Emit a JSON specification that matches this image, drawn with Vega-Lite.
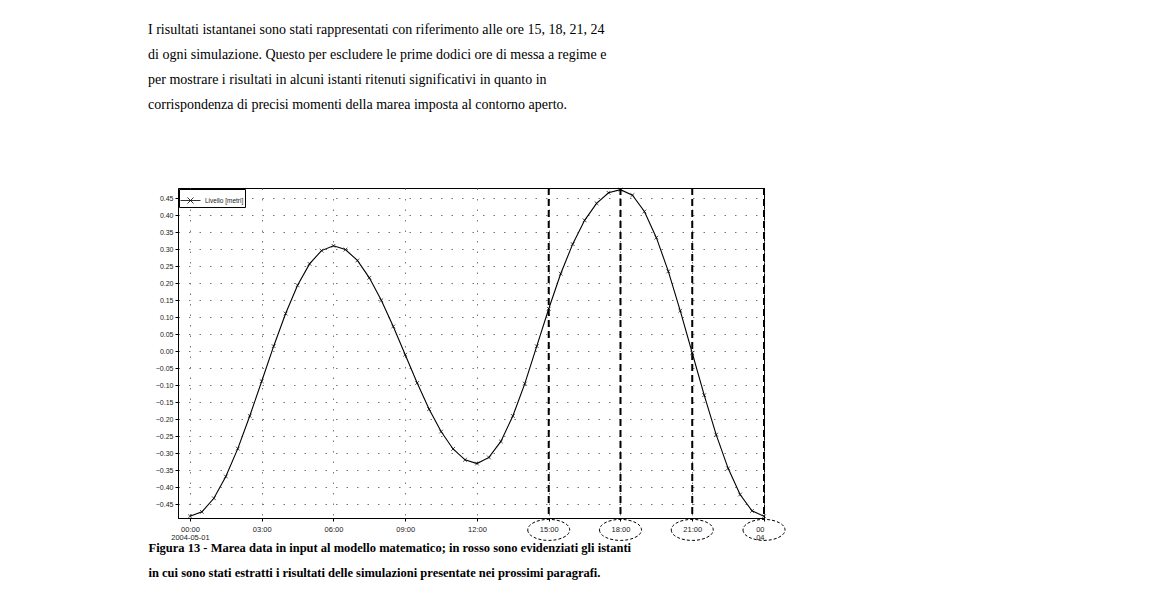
{
  "$schema": "https://vega.github.io/schema/vega-lite/v6.json",
  "width": 586,
  "height": 330,
  "autosize": "none",
  "padding": {"left": 178, "top": 188, "right": 390, "bottom": 81},
  "background": "white",
  "config": {
    "view": {"stroke": "black", "strokeWidth": 1},
    "font": "Liberation Sans"
  },
  "title": {
    "text": [
      "I risultati istantanei sono stati rappresentati con riferimento alle ore 15, 18, 21, 24",
      "di ogni simulazione. Questo per escludere le prime dodici ore di messa a regime e",
      "per mostrare i risultati in alcuni istanti ritenuti significativi in quanto in",
      "corrispondenza di precisi momenti della marea imposta al contorno aperto."
    ],
    "anchor": "start",
    "frame": "group",
    "dx": -30,
    "offset": 74,
    "font": "Liberation Serif",
    "fontSize": 14,
    "fontWeight": "normal",
    "lineHeight": 25.3,
    "color": "black"
  },
  "datasets": {
    "tide": [
      {"h": 0, "livello": -0.485, "serie": "Livello [metri]"},
      {"h": 0.5, "livello": -0.472, "serie": "Livello [metri]"},
      {"h": 1, "livello": -0.432, "serie": "Livello [metri]"},
      {"h": 1.5, "livello": -0.368, "serie": "Livello [metri]"},
      {"h": 2, "livello": -0.286, "serie": "Livello [metri]"},
      {"h": 2.5, "livello": -0.19, "serie": "Livello [metri]"},
      {"h": 3, "livello": -0.088, "serie": "Livello [metri]"},
      {"h": 3.5, "livello": 0.015, "serie": "Livello [metri]"},
      {"h": 4, "livello": 0.111, "serie": "Livello [metri]"},
      {"h": 4.5, "livello": 0.194, "serie": "Livello [metri]"},
      {"h": 5, "livello": 0.257, "serie": "Livello [metri]"},
      {"h": 5.5, "livello": 0.296, "serie": "Livello [metri]"},
      {"h": 6, "livello": 0.31, "serie": "Livello [metri]"},
      {"h": 6.5, "livello": 0.299, "serie": "Livello [metri]"},
      {"h": 7, "livello": 0.267, "serie": "Livello [metri]"},
      {"h": 7.5, "livello": 0.216, "serie": "Livello [metri]"},
      {"h": 8, "livello": 0.15, "serie": "Livello [metri]"},
      {"h": 8.5, "livello": 0.073, "serie": "Livello [metri]"},
      {"h": 9, "livello": -0.01, "serie": "Livello [metri]"},
      {"h": 9.5, "livello": -0.093, "serie": "Livello [metri]"},
      {"h": 10, "livello": -0.17, "serie": "Livello [metri]"},
      {"h": 10.5, "livello": -0.236, "serie": "Livello [metri]"},
      {"h": 11, "livello": -0.287, "serie": "Livello [metri]"},
      {"h": 11.5, "livello": -0.319, "serie": "Livello [metri]"},
      {"h": 12, "livello": -0.33, "serie": "Livello [metri]"},
      {"h": 12.5, "livello": -0.312, "serie": "Livello [metri]"},
      {"h": 13, "livello": -0.265, "serie": "Livello [metri]"},
      {"h": 13.5, "livello": -0.19, "serie": "Livello [metri]"},
      {"h": 14, "livello": -0.095, "serie": "Livello [metri]"},
      {"h": 14.5, "livello": 0.015, "serie": "Livello [metri]"},
      {"h": 15, "livello": 0.125, "serie": "Livello [metri]"},
      {"h": 15.5, "livello": 0.228, "serie": "Livello [metri]"},
      {"h": 16, "livello": 0.315, "serie": "Livello [metri]"},
      {"h": 16.5, "livello": 0.385, "serie": "Livello [metri]"},
      {"h": 17, "livello": 0.435, "serie": "Livello [metri]"},
      {"h": 17.5, "livello": 0.466, "serie": "Livello [metri]"},
      {"h": 18, "livello": 0.475, "serie": "Livello [metri]"},
      {"h": 18.5, "livello": 0.459, "serie": "Livello [metri]"},
      {"h": 19, "livello": 0.411, "serie": "Livello [metri]"},
      {"h": 19.5, "livello": 0.334, "serie": "Livello [metri]"},
      {"h": 20, "livello": 0.235, "serie": "Livello [metri]"},
      {"h": 20.5, "livello": 0.119, "serie": "Livello [metri]"},
      {"h": 21, "livello": -0.005, "serie": "Livello [metri]"},
      {"h": 21.5, "livello": -0.129, "serie": "Livello [metri]"},
      {"h": 22, "livello": -0.245, "serie": "Livello [metri]"},
      {"h": 22.5, "livello": -0.344, "serie": "Livello [metri]"},
      {"h": 23, "livello": -0.421, "serie": "Livello [metri]"},
      {"h": 23.5, "livello": -0.469, "serie": "Livello [metri]"},
      {"h": 24, "livello": -0.485, "serie": "Livello [metri]"}
    ],
    "istanti": [{"h": 15}, {"h": 18}, {"h": 21}, {"h": 24}]
  },
  "layer": [
    {
      "data": {"name": "tide"},
      "mark": {"type": "line", "strokeWidth": 1.1},
      "encoding": {
        "x": {
          "field": "h",
          "type": "quantitative",
          "scale": {"domain": [-0.5, 24], "nice": false, "zero": false},
          "axis": {
            "values": [0, 3, 6, 9, 12, 15, 18, 21, 24],
            "tickCount": 30,
            "labelExpr": "datum.value == 0 ? ['00:00', '2004-05-01'] : datum.value == 24 ? ['00', '04'] : (datum.value < 10 ? '0' : '') + datum.value + ':00'",
            "labelFontSize": 7.5,
            "labelLineHeight": 8,
            "labelColor": "#222",
            "labelPadding": 4,
            "labelOverlap": false,
            "tickSize": 3,
            "tickColor": "black",
            "domainColor": "black",
            "grid": true,
            "gridDash": [1.5, 9],
            "gridColor": "#777",
            "title": [
              "Figura 13 - Marea data in input al modello matematico; in rosso sono evidenziati gli istanti",
              "in cui sono stati estratti i risultati delle simulazioni presentate nei prossimi paragrafi."
            ],
            "titleFont": "Liberation Serif",
            "titleFontSize": 12.5,
            "titleFontWeight": "bold",
            "titleColor": "black",
            "titleAlign": "left",
            "titleBaseline": "alphabetic",
            "titleX": -30,
            "titleY": 33,
            "titleLineHeight": 25.5
          }
        },
        "y": {
          "field": "livello",
          "type": "quantitative",
          "scale": {"domain": [-0.49, 0.48], "nice": false, "zero": false},
          "axis": {
            "values": [-0.45, -0.4, -0.35, -0.3, -0.25, -0.2, -0.15, -0.1, -0.05, 0, 0.05, 0.1, 0.15, 0.2, 0.25, 0.3, 0.35, 0.4, 0.45],
            "tickCount": 40,
            "format": ".2f",
            "labelFontSize": 7,
            "labelColor": "#222",
            "labelPadding": 2,
            "labelOverlap": false,
            "tickSize": 3,
            "tickColor": "black",
            "domainColor": "black",
            "grid": true,
            "gridDash": [1.5, 9],
            "gridColor": "#777",
            "title": null
          }
        },
        "color": {
          "field": "serie",
          "type": "nominal",
          "scale": {"range": ["black"]},
          "legend": {
            "orient": "top-left",
            "offset": 1,
            "title": null,
            "labelFontSize": 6.5,
            "labelColor": "#222",
            "symbolType": "M-1,0H1M-0.3,-0.3L0.3,0.3M-0.3,0.3L0.3,-0.3",
            "symbolSize": 400,
            "symbolStrokeWidth": 0.8,
            "symbolStrokeColor": "black",
            "strokeColor": "black",
            "fillColor": "white",
            "padding": 1,
            "rowPadding": 0
          }
        }
      }
    },
    {
      "data": {"name": "tide"},
      "mark": {
        "type": "point",
        "shape": "M-1,-1L1,1M-1,1L1,-1",
        "size": 14,
        "filled": false,
        "strokeWidth": 0.7,
        "color": "black",
        "opacity": 1
      },
      "encoding": {
        "x": {"field": "h", "type": "quantitative"},
        "y": {"field": "livello", "type": "quantitative"}
      }
    },
    {
      "data": {"name": "istanti"},
      "mark": {"type": "rule", "strokeDash": [7, 4], "strokeWidth": 2, "color": "black"},
      "encoding": {
        "x": {"field": "h", "type": "quantitative"}
      }
    },
    {
      "data": {"name": "istanti"},
      "mark": {
        "type": "point",
        "shape": "M-1,0A1,0.5,0,1,0,1,0A1,0.5,0,1,0,-1,0Z",
        "size": 1764,
        "filled": false,
        "strokeWidth": 1,
        "strokeDash": [3, 2],
        "color": "black",
        "opacity": 1
      },
      "encoding": {
        "x": {"field": "h", "type": "quantitative"},
        "y": {"datum": -0.525, "type": "quantitative"}
      }
    }
  ]
}
